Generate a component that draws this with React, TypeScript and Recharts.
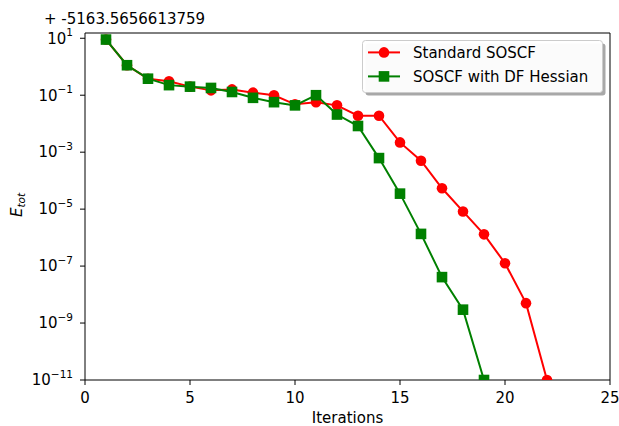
import React from 'react'
import { LineChart, Line, XAxis, YAxis, ReferenceLine } from 'recharts'

const iterations = [1, 2, 3, 4, 5, 6, 7, 8, 9, 10, 11, 12, 13, 14, 15, 16, 17, 18, 19, 20, 21, 22]

const standardSoscf = [
  9, 1.13, 0.38, 0.31, 0.2, 0.148, 0.16, 0.123, 0.1, 0.048, 0.057, 0.044, 0.019, 0.019,
  2.2e-3, 5e-4, 5.4e-5, 8.3e-6, 1.3e-6, 1.26e-7, 5e-9, 1e-11,
]

const dfHessian = [
  9, 1.13, 0.38, 0.226, 0.2, 0.18, 0.13, 0.081, 0.057, 0.044, 0.1, 0.021, 0.0083, 6.2e-4,
  3.5e-5, 1.35e-6, 4.1e-8, 2.95e-9, 1e-11,
]

const xTicks = [0, 5, 10, 15, 20, 25]
const yTicks = [1e-11, 1e-9, 1e-7, 1e-5, 1e-3, 1e-1, 1e1]
const yTop = 15.3
const xMax = 25

const RED = '#ff0000'
const GREEN = '#008000'
const FONT = 'DejaVu Sans, sans-serif'
const FS = 15
const SUP = 10.5

const data = iterations.map((it, i) => ({
  it,
  standard: standardSoscf[i] ?? null,
  df: dfHessian[i] ?? null,
}))

const CircleDot = (props: any) => {
  const { cx, cy, index } = props
  if (cx == null || cy == null) return <g key={`c-${index}`} />
  return <circle key={`c-${index}`} cx={cx} cy={cy} r={5.3} fill={RED} />
}

const SquareDot = (props: any) => {
  const { cx, cy, index } = props
  if (cx == null || cy == null) return <g key={`s-${index}`} />
  return <rect key={`s-${index}`} x={cx - 5.3} y={cy - 5.3} width={10.6} height={10.6} fill={GREEN} />
}

const YTick = (props: any) => {
  const { x, y, payload } = props
  const exp = Math.round(Math.log10(payload.value))
  const expText = exp < 0 ? `\u2212${-exp}` : `${exp}`
  return (
    <text x={x - 5} y={y} textAnchor="end" fontFamily={FONT} fontSize={FS} fill="#000">
      <tspan dy={5.3}>10</tspan>
      <tspan dy={-7.5} fontSize={SUP}>
        {expText}
      </tspan>
    </text>
  )
}

const legendItems = [
  { label: 'Standard SOSCF', color: RED, shape: 'circle' },
  { label: 'SOSCF with DF Hessian', color: GREEN, shape: 'square' },
]

const LegendBox = () => (
  <svg
    width={619}
    height={426}
    style={{ position: 'absolute', left: 0, top: 0, pointerEvents: 'none' }}
  >
    <rect x={365.5} y={43.5} width={240} height={52} rx={3} fill="#a8a8a8" />
    <rect x={362.5} y={40.5} width={240} height={52} rx={3} fill="#ffffff" fillOpacity={0.95} stroke="#cccccc" />
    {legendItems.map((item, i) => {
      const cy = 52.4 + i * 24
      return (
        <g key={item.label}>
          <line x1={368} y1={cy} x2={400} y2={cy} stroke={item.color} strokeWidth={2} />
          {item.shape === 'circle' ? (
            <circle cx={384} cy={cy} r={5.3} fill={item.color} />
          ) : (
            <rect x={384 - 5.3} y={cy - 5.3} width={10.6} height={10.6} fill={item.color} />
          )}
          <text x={413} y={cy + 5.3} fontFamily={FONT} fontSize={FS} fill="#000">
            {item.label}
          </text>
        </g>
      )
    })}
  </svg>
)

export default function App() {
  return (
    <div style={{ position: 'absolute', left: 0, top: 0, width: 619, height: 426, background: '#fff' }}>
      <LineChart width={619} height={426} data={data} margin={{ top: 33, right: 9, left: 0, bottom: 0 }}>
        <XAxis
          dataKey="it"
          type="number"
          domain={[0, xMax]}
          ticks={xTicks}
          allowDataOverflow
          height={46}
          tickSize={5}
          tickMargin={7.5}
          stroke="#000"
          tick={{ fill: '#000', fontFamily: FONT, fontSize: FS }}
          label={{
            content: (p: any) => {
              const vb = p.viewBox
              return (
                <text x={vb.x + vb.width / 2} y={422.5} textAnchor="middle" fontFamily={FONT} fontSize={FS} fill="#000">
                  Iterations
                </text>
              )
            },
          }}
        />
        <YAxis
          type="number"
          scale="log"
          domain={[1e-11, yTop]}
          ticks={yTicks}
          allowDataOverflow
          width={85}
          tickSize={5}
          stroke="#000"
          tick={<YTick />}
          label={{
            content: () => (
              <text transform="translate(21.5,205) rotate(-90)" textAnchor="middle" fontFamily={FONT} fontSize={FS} fill="#000">
                <tspan fontStyle="italic">E</tspan>
                <tspan fontStyle="italic" fontSize={SUP} dy={3}>
                  tot
                </tspan>
              </text>
            ),
          }}
        />
        <ReferenceLine
          y={yTop}
          stroke="#000"
          strokeWidth={1}
          ifOverflow="visible"
          label={{
            content: () => (
              <text x={44} y={23.5} fontFamily={FONT} fontSize={FS} fill="#000">
                + -5163.5656613759
              </text>
            ),
          }}
        />
        <ReferenceLine x={xMax} stroke="#000" strokeWidth={1} ifOverflow="visible" />
        <Line
          dataKey="standard"
          stroke={RED}
          strokeWidth={2}
          dot={CircleDot}
          activeDot={false}
          isAnimationActive={false}
          connectNulls={false}
        />
        <Line
          dataKey="df"
          stroke={GREEN}
          strokeWidth={2}
          dot={SquareDot}
          activeDot={false}
          isAnimationActive={false}
          connectNulls={false}
        />
      </LineChart>
      <LegendBox />
    </div>
  )
}
